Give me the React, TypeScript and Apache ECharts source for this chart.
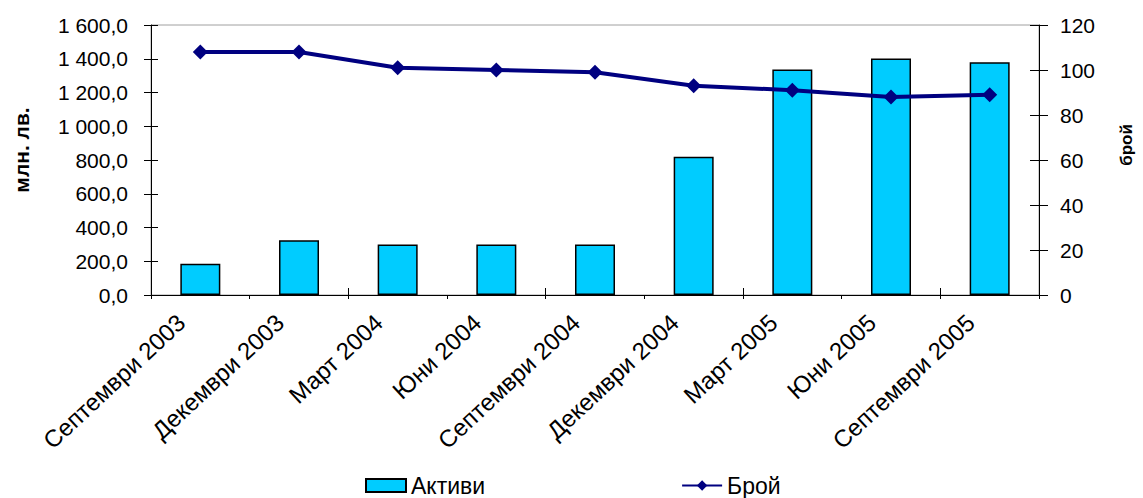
import React, { useEffect, useRef } from "react";
import * as echarts from "echarts";

const categories = [
  "Септември 2003",
  "Декември 2003",
  "Март 2004",
  "Юни 2004",
  "Септември 2004",
  "Декември 2004",
  "Март 2005",
  "Юни 2005",
  "Септември 2005",
];
const assets = [185, 324, 300, 300, 300, 820, 1337, 1402, 1379];
const counts = [108, 108, 101, 100, 99, 93, 91, 88, 89];
const seriesNames = ["Активи", "Брой"];
const axisNames = ["млн. лв.", "брой"];

const FONT = "'Liberation Sans', Arial, sans-serif";

const fmtLeft = (v: number) =>
  v
    .toFixed(1)
    .replace(".", ",")
    .replace(/\B(?=(\d{3})+(?!\d))/g, " ");

export default function App() {
  const ref = useRef<HTMLDivElement>(null);
  useEffect(() => {
    if (!ref.current) return;
    const chart = echarts.init(ref.current, undefined, { renderer: "svg" });
    const black = { color: "#000", width: 1 };
    chart.setOption({
      animation: false,
      backgroundColor: "#fff",
      grid: {
        left: 151,
        right: 101,
        top: 25,
        bottom: 203,
        show: true,
        borderColor: "#a0a0a0",
        borderWidth: 1,
      },
      legend: {
        left: 365,
        top: 474,
        padding: 0,
        itemWidth: 40,
        itemHeight: 13,
        itemGap: 196,
        textStyle: { fontSize: 23, lineHeight: 22, fontFamily: FONT, color: "#000" },
        data: [{ name: seriesNames[0], icon: "rect" }, { name: seriesNames[1] }],
      },
      xAxis: [
        {
          type: "category",
          data: categories,
          position: "bottom",
          axisLine: { show: true, lineStyle: black },
          axisTick: { show: true, length: 4, lineStyle: black },
          axisLabel: {
            rotate: 43,
            interval: 0,
            fontSize: 24,
            fontFamily: FONT,
            color: "#000",
            margin: 6,
            padding: [0, 26, 0, 0],
          },
          splitLine: { show: false },
        },
        {
          type: "category",
          data: categories,
          position: "bottom",
          axisLine: { show: false },
          axisTick: { show: true, inside: true, length: 7, lineStyle: black },
          axisLabel: { show: false },
          splitLine: { show: false },
        },
      ],
      yAxis: [
        {
          type: "value",
          position: "left",
          min: 0,
          max: 1600,
          interval: 200,
          axisLine: { show: true, lineStyle: black },
          axisTick: { show: true, length: 7, lineStyle: black },
          axisLabel: {
            formatter: fmtLeft,
            fontSize: 21,
            fontFamily: FONT,
            color: "#000",
            margin: 23,
          },
          splitLine: { show: false },
          name: axisNames[0],
          nameLocation: "middle",
          nameRotate: 90,
          nameGap: 119,
          nameTextStyle: {
            fontSize: 21,
            fontWeight: "bold",
            fontFamily: FONT,
            color: "#000",
            padding: [0, 0, 0, 20],
          },
        },
        {
          type: "value",
          position: "right",
          min: 0,
          max: 120,
          interval: 20,
          axisLine: { show: true, lineStyle: black },
          axisTick: { show: true, length: 9, lineStyle: black },
          axisLabel: {
            fontSize: 21,
            fontFamily: FONT,
            color: "#000",
            margin: 21,
          },
          splitLine: { show: false },
          name: axisNames[1],
          nameLocation: "middle",
          nameRotate: 90,
          nameGap: 79,
          nameTextStyle: {
            fontSize: 17,
            fontWeight: "bold",
            fontFamily: FONT,
            color: "#000",
            padding: [0, 0, 0, 30],
          },
        },
        {
          type: "value",
          position: "left",
          min: 0,
          max: 1600,
          interval: 200,
          axisLine: { show: false },
          axisTick: { show: true, inside: true, length: 7, lineStyle: black },
          axisLabel: { show: false },
          splitLine: { show: false },
        },
        {
          type: "value",
          position: "right",
          min: 0,
          max: 120,
          interval: 20,
          axisLine: { show: false },
          axisTick: { show: true, inside: true, length: 9, lineStyle: black },
          axisLabel: { show: false },
          splitLine: { show: false },
        },
      ],
      series: [
        {
          name: seriesNames[0],
          type: "bar",
          xAxisIndex: 0,
          yAxisIndex: 0,
          data: assets,
          barWidth: 40,
          itemStyle: { color: "#00CCFF", borderColor: "#000", borderWidth: 1.5 },
        },
        {
          name: seriesNames[1],
          type: "line",
          xAxisIndex: 0,
          yAxisIndex: 1,
          data: counts,
          color: "#000080",
          lineStyle: { color: "#000080", width: 4 },
          itemStyle: { color: "#000080" },
          symbol: "diamond",
          symbolSize: 15,
          z: 5,
        },
      ],
    });
    return () => chart.dispose();
  }, []);
  return (
    <div
      ref={ref}
      style={{ position: "absolute", left: 0, top: 0, width: 1143, height: 498, background: "#fff" }}
    />
  );
}
